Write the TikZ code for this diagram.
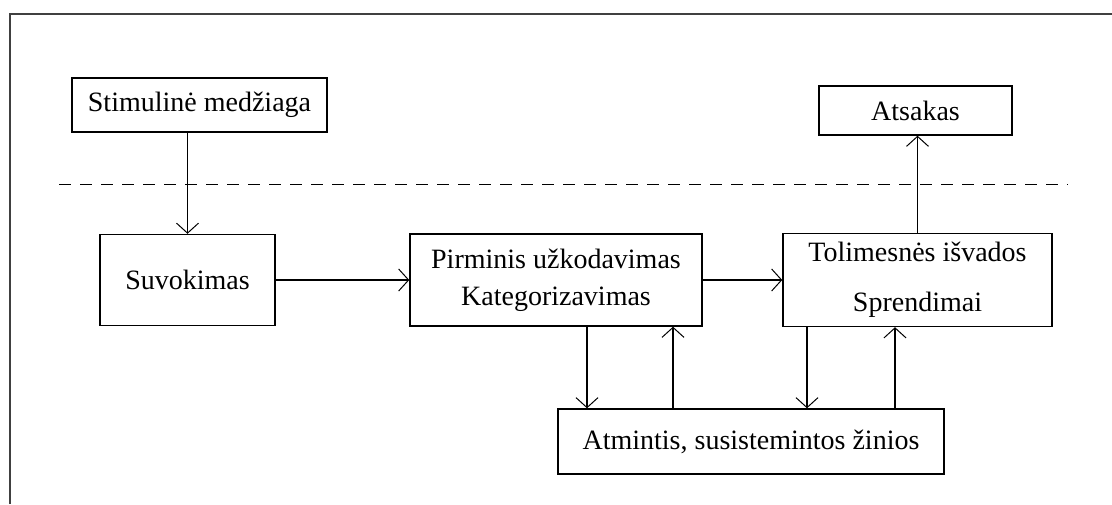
\documentclass[tikz,border=0pt]{standalone}
\usepackage{fontspec}
\setmainfont{Liberation Serif}
\usetikzlibrary{arrows.meta}

\begin{document}
\begin{tikzpicture}[x=1pt, y=-1pt,
    box/.style = {draw, line width=1.4pt, rectangle, inner sep=0pt, align=center,
        font=\fontsize{28}{34}\selectfont},
    link/.style = {line width=1.4pt, -{Straight Barb[length=10pt, width=22pt, line width=1pt]}}]%
    \useasboundingbox (0, 0) rectangle (1112, 504);
    \draw[line width=2.2pt, black!75] (10, 504) -- (10, 14) -- (1112, 14);
    \draw[line width=1pt, dash pattern=on 12pt off 9pt] (59, 184) -- (1068, 184);
    \node[box, minimum width=255, minimum height=54] (stim) at (199.5, 105) {Stimulinė medžiaga};
    \node[box, minimum width=193, minimum height=49] (ats) at (915.5, 110.5) {Atsakas};
    \node[box, minimum width=175, minimum height=91] (suv) at (187.5, 280) {Suvokimas};
    \node[box, minimum width=292, minimum height=92] (pirm) at (556, 280) {Pirminis užkodavimas\\[3pt] Kategorizavimas};
    \node[box, minimum width=269, minimum height=93] (tol) at (917.5, 280) {Tolimesnės išvados\\[16pt] Sprendimai};
    \node[box, minimum width=386, minimum height=65] (atm) at (751, 441.5) {Atmintis, susistemintos žinios};
    \coordinate (d1) at (587, 0);
    \coordinate (u1) at (673, 0);
    \coordinate (d2) at (807, 0);
    \coordinate (u2) at (895, 0);
    \draw[link] (stim.south -| suv.north) -- (suv.north);
    \draw[link] (suv.east) -- (pirm.west);
    \draw[link] (pirm.east) -- (tol.west);
    \draw[link] (tol.north) -- (tol.north |- ats.south);
    \draw[link] (pirm.south -| d1) -- (atm.north -| d1);
    \draw[link] (atm.north -| u1) -- (pirm.south -| u1);
    \draw[link] (tol.south -| d2) -- (atm.north -| d2);
    \draw[link] (atm.north -| u2) -- (tol.south -| u2);
\end{tikzpicture}
\end{document}
